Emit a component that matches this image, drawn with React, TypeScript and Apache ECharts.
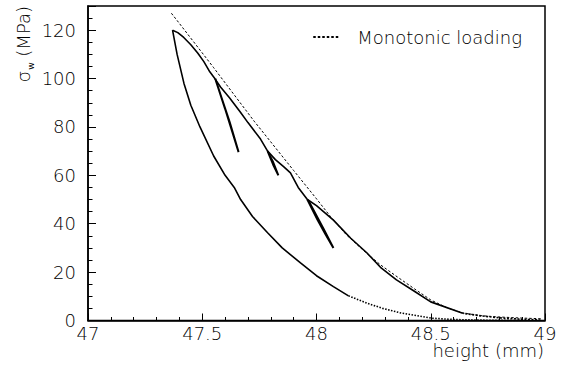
import React, { useEffect, useRef } from "react";
import * as echarts from "echarts";

const xTicks = { min: 47, max: 49, interval: 0.5 };
const yTicks = { min: 0, max: 130, interval: 20 };

const monotonic: [number, number][] = [
  [47.365, 127], [47.39, 124], [47.45, 116.7], [47.55, 104.5], [47.65, 92],
  [47.727, 82.4], [47.8, 73.8], [47.9, 62], [48.0, 50.3], [48.061, 43],
  [48.13, 35.5], [48.205, 29], [48.28, 23], [48.354, 18], [48.43, 13],
  [48.5, 8.5], [48.57, 5.3], [48.64, 3.1], [48.72, 2.0], [48.79, 1.5],
  [48.9, 1.0], [48.99, 0.7],
];

const envelope: [number, number][] = [
  [48.64, 3], [48.5, 7.7], [48.43, 12], [48.35, 16.8], [48.28, 22],
  [48.22, 28], [48.15, 34], [48.074, 41.5], [48.0, 47.5], [47.96, 50],
  [47.92, 55], [47.886, 61], [47.856, 63.6], [47.82, 66.5], [47.786, 70],
  [47.755, 75], [47.7, 81.8], [47.668, 86], [47.62, 92], [47.58, 96.5],
  [47.555, 100], [47.533, 102.8], [47.507, 107], [47.48, 110.6],
  [47.45, 114], [47.419, 117], [47.393, 119], [47.37, 120],
];

const envelopeTail: [number, number][] = [
  [48.98, 0.2], [48.9, 0.5], [48.8, 1.1], [48.72, 1.9], [48.64, 3],
];

const unload1: [number, number][] = [
  [47.96, 50], [48.005, 41.5], [48.04, 35.5], [48.074, 30], [48.03, 38], [47.965, 49.5],
];
const unload2: [number, number][] = [
  [47.786, 70], [47.81, 64.5], [47.833, 60], [47.81, 65.5], [47.788, 69.5],
];
const unload3: [number, number][] = [
  [47.557, 100], [47.6, 87.5], [47.63, 78.5], [47.659, 69.6], [47.62, 82], [47.56, 99],
];

const finalUnload: [number, number][] = [
  [47.37, 120], [47.39, 110], [47.42, 98], [47.45, 89], [47.49, 80],
  [47.55, 68], [47.6, 60], [47.64, 55], [47.668, 50], [47.72, 43],
  [47.786, 36.3], [47.85, 30], [47.93, 23.8], [48.0, 18.5], [48.074, 14],
  [48.14, 10.2],
];
const finalUnloadTail: [number, number][] = [
  [48.14, 10.2], [48.22, 7.2], [48.29, 5], [48.37, 3.1], [48.5, 1],
  [48.6, 0.4], [48.75, 0.1], [48.9, 0],
];

const FONT = "DejaVu Sans";

export default function App() {
  const ref = useRef<HTMLDivElement>(null);
  useEffect(() => {
    if (!ref.current) return;
    const chart = echarts.init(ref.current, undefined, { renderer: "svg" });
    const solid = (name: string, data: [number, number][], width = 1.6, type: any = "solid") => ({
      name,
      type: "line",
      data,
      symbol: "none",
      smooth: false,
      lineStyle: { color: "#000", width, type },
      itemStyle: { color: "#000" },
      z: 3,
    });
    chart.setOption({
      animation: false,
      backgroundColor: "#fff",
      grid: {
        left: 88, right: 26, top: 6, bottom: 52.5,
        containLabel: false,
        outerBoundsMode: "none",
        show: true, borderColor: "#000", borderWidth: 1.5,
      },
      legend: {
        data: ["Monotonic loading"],
        right: 44,
        top: 23,
        itemWidth: 27,
        itemHeight: 14,
        itemStyle: { opacity: 0 },
        textStyle: { fontFamily: FONT, fontSize: 18, color: "#000", fontWeight: 300, padding: [0, 0, 0, 12] },
      },
      xAxis: {
        type: "value",
        min: xTicks.min, max: xTicks.max, interval: xTicks.interval,
        axisLine: { show: true, lineStyle: { color: "#000", width: 1.5 } },
        axisTick: { show: true, inside: true, length: 7, lineStyle: { color: "#000" } },
        minorTick: { show: true, splitNumber: 5, length: 3.5, lineStyle: { color: "#000" } },
        splitLine: { show: false },
        axisLabel: {
          fontFamily: FONT, fontSize: 18, color: "#000", margin: 4, fontWeight: 300,
          formatter: (v: number) => String(v),
        },
      },
      yAxis: {
        type: "value",
        min: yTicks.min, max: yTicks.max, interval: yTicks.interval,
        axisLine: { show: true, lineStyle: { color: "#000", width: 1.5 } },
        axisTick: { show: true, inside: true, length: 8, lineStyle: { color: "#000" } },
        minorTick: { show: true, splitNumber: 4, length: 4.5, lineStyle: { color: "#000" } },
        splitLine: { show: false },
        axisLabel: {
          fontFamily: FONT, fontSize: 18, color: "#000", margin: 12, fontWeight: 300,
          showMaxLabel: false,
        },
      },
      graphic: [
        {
          type: "text",
          x: 23,
          y: 6,
          rotation: Math.PI / 2,
          style: {
            text: "{s|σ}{w|w}{n| (MPa)}",
            align: "right",
            verticalAlign: "middle",
            fill: "#000",
            rich: {
              s: { fontFamily: FONT, fontSize: 18, fill: "#000", fontWeight: 300, lineHeight: 24 },
              w: { fontFamily: FONT, fontSize: 9, fill: "#000", verticalAlign: "bottom", lineHeight: 24, padding: [0, 0, 0, 1] },
              n: { fontFamily: FONT, fontSize: 18, fill: "#000", fontWeight: 300, lineHeight: 24 },
            },
          },
        },
        {
          type: "text",
          x: 544,
          y: 350,
          style: {
            text: "height (mm)",
            align: "right",
            verticalAlign: "middle",
            fill: "#000",
            fontFamily: FONT,
            fontSize: 18,
            fontWeight: 300,
          },
        },
      ],
      series: [
        {
          name: "Monotonic loading",
          type: "line",
          data: monotonic,
          symbol: "none",
          lineStyle: { color: "#000", width: 1, type: [2.5, 2] },
          itemStyle: { color: "#000" },
          z: 2,
        },
        solid("envelope", envelope),
        solid("envelopeTail", envelopeTail, 1.6, [2, 1.5]),
        solid("unload1", unload1, 2),
        solid("unload2", unload2, 2),
        solid("unload3", unload3, 2),
        solid("finalUnload", finalUnload),
        solid("finalUnloadTail", finalUnloadTail, 1.6, [1.5, 1.5]),
      ],
    });
    return () => chart.dispose();
  }, []);
  return (
    <div
      ref={ref}
      style={{ position: "fixed", left: 0, top: 0, width: 571, height: 373, background: "#fff" }}
    />
  );
}
